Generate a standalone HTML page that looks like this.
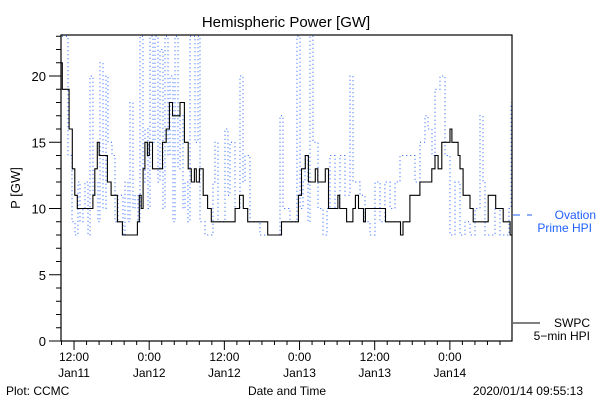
<!DOCTYPE html>
<html><head><meta charset="utf-8">
<style>
html,body{margin:0;padding:0;background:#fff;}
svg{display:block;font-family:"Liberation Sans",sans-serif;}
</style></head>
<body>
<svg id="chart" width="600" height="400" viewBox="0 0 600 400" xmlns="http://www.w3.org/2000/svg">
<rect width="600" height="400" fill="#fff"/>
<text x="286" y="27" text-anchor="middle" font-size="15">Hemispheric Power [GW]</text>
<g id="plot"></g>
<text transform="translate(20,188) rotate(-90)" text-anchor="middle" font-size="13">P [GW]</text>
<text x="287" y="395" text-anchor="middle" font-size="12">Date and Time</text>
<text x="6" y="395" font-size="12">Plot: CCMC</text>
<text x="583" y="395" text-anchor="end" font-size="12">2020/01/14 09:55:13</text>
<g>
<line x1="513" y1="215" x2="520" y2="215" stroke="#1f5fff" stroke-width="1"/>
<line x1="527" y1="215" x2="532" y2="215" stroke="#1f5fff" stroke-width="1"/>
<text x="596" y="219" text-anchor="end" font-size="12" fill="#1f5fff">Ovation</text>
<text x="592" y="232" text-anchor="end" font-size="12" fill="#1f5fff">Prime HPI</text>
</g>
<g>
<line x1="513" y1="323" x2="540" y2="323" stroke="#000" stroke-width="1"/>
<text x="590" y="327" text-anchor="end" font-size="12">SWPC</text>
<text x="590" y="340" text-anchor="end" font-size="12">5−min HPI</text>
</g>
</svg>
<script>
const yTicks = [0,5,10,15,20];
const xTickHours = [2.08,14.08,26.08,38.08,50.08,62.08];
const xTickLine1 = ["12:00","0:00","12:00","0:00","12:00","0:00"];
const xTickLine2 = ["Jan11","Jan12","Jan12","Jan13","Jan13","Jan14"];
const swpcHours = [0,0.2,0.8,1.3,1.8,2.2,2.6,4.8,5.1,5.4,5.8,6.1,6.9,7.4,8,9,9.8,11.7,12.2,12.5,12.8,13.1,13.4,13.8,14.1,14.6,15.7,16.2,16.8,17.3,17.8,18.6,19,19.7,20.3,20.8,21.3,21.6,22.1,22.7,23.4,24,25.3,27.2,27.8,28.5,29.1,29.8,30.7,33,34.4,35.2,37.4,37.9,38.4,39,39.5,40.2,40.6,41,41.9,42.2,42.7,44,44.2,44.5,45.3,45.6,46.6,47,47.5,48.3,48.6,51.4,51.8,53.9,54.2,54.6,55.7,57,57.3,58.6,59.2,59.7,60.2,60.8,62.1,62.4,63.4,63.7,64.2,65.3,65.8,67.5,68.2,69,69.4,70.6,71.7,72];
const swpcValues = [21,19,19,16,13,11,10,10,11,13,15,14,14,12,11,9,8,8,9,11,10,13,15,14,15,13,13,15,16,18,17,17,18,15,13,12,13,12,13,11,10,9,9,9,10,11,10,9,9,8,8,9,9,11,13,14,12,12,13,12,12,13,10,10,11,10,10,9,10,11,10,9,10,10,9,9,8,9,11,11,12,12,13,14,13,15,16,15,14,13,11,10,9,9,11,11,10,9,8,8];
const ovXs = [62,65,68,72,75,78,80,83,85,88,90,93,95,98,100,103,106,108,112,115,118,123,125,128,130,133,135,138,140,143,145,148,150,153,155,158,160,163,165,168,170,173,175,178,180,183,185,188,190,195,198,200,205,210,213,215,218,220,225,228,230,235,240,243,245,250,255,260,265,270,275,280,283,285,290,294,297,300,303,305,308,310,313,318,323,327,330,335,340,345,350,353,355,360,365,370,375,380,385,390,395,400,405,410,415,420,425,428,432,435,440,445,450,455,460,465,470,475,480,483,485,490,495,500,505,509,511];
const ovValues = [23,23,14,9,8,12,9,10,12,8,20,11,12,9,21,10,20,15,14,9,11,8,12,9,18,10,11,9,23,12,16,10,23,15,23,12,22,10,23,14,20,9,23,13,17,10,12,9,23,15,23,9,8,8,12,15,9,9,16,11,15,10,20,12,14,9,9,8,8,8,8,17,10,10,9,9,23,10,12,14,9,23,15,10,8,10,14,10,14,11,20,12,12,11,9,8,12,9,12,10,12,14,14,14,12,15,17,16,14,19,20,14,8,12,8,9,8,10,17,12,8,8,10,8,8,10,18];
const X0=61, X1=512, Y0=341, Y1=35, HOURS=72, YMAX=(341-35)/13.25;
function xs(h){return X0+(h/HOURS)*(X1-X0);}
function xpx(px){return px;}
function ys(v){return Y0-(v/YMAX)*(Y0-Y1);}
const NS="http://www.w3.org/2000/svg";
const plot=document.getElementById('plot');
function mk(tag,attrs){const e=document.createElementNS(NS,tag);for(const k in attrs)e.setAttribute(k,attrs[k]);plot.appendChild(e);return e;}
const defs=mk('defs',{});
const cp=document.createElementNS(NS,'clipPath');cp.setAttribute('id','clip');
const cr=document.createElementNS(NS,'rect');cr.setAttribute('x',X0);cr.setAttribute('y',Y1);cr.setAttribute('width',X1-X0);cr.setAttribute('height',Y0-Y1);
cp.appendChild(cr);defs.appendChild(cp);
let d='';
for(let i=0;i<ovXs.length;i++){const x=xpx(ovXs[i]);const y=Math.max(ys(ovValues[i]),Y1);
 if(i===0)d+='M'+x+','+y;else d+=' H'+x+' V'+y;}
const ov=mk('path',{d:d,fill:'none',stroke:'#1a5cff','stroke-width':1,'stroke-dasharray':'1,3','clip-path':'url(#clip)'});


let d2='';
for(let i=0;i<swpcValues.length;i++){const x=xs(swpcHours[i]).toFixed(1);const y=ys(swpcValues[i]).toFixed(1);
 if(i===0)d2+='M'+x+','+y;else d2+=' H'+x+' V'+y;}
d2+=' H'+xs(swpcHours[swpcHours.length-1]).toFixed(1);
const sw=mk('path',{d:d2,fill:'none',stroke:'#000','stroke-width':1.1,'clip-path':'url(#clip)'});


const fr=mk('rect',{x:X0,y:Y1,width:X1-X0,height:Y0-Y1,fill:'none',stroke:'#000','stroke-width':1.2});


for(let v=0;v<=23;v++){const y=ys(v);const major=yTicks.indexOf(v)>=0;
 const t=mk('line',{x1:major?49:56,x2:X0,y1:y,y2:y,stroke:'#000','stroke-width':1});
 
 }
yTicks.forEach(v=>{const t=mk('text',{x:46,y:ys(v)+5,'text-anchor':'end','font-size':13});t.textContent=v;
 
 });
for(let h=0.08;h<=72;h+=2){const x=xs(h);const major=xTickHours.some(m=>Math.abs(m-h)<0.01);
 const t=mk('line',{x1:x,x2:x,y1:Y0,y2:Y0+(major?9:4),stroke:'#000','stroke-width':1});
 
 }
xTickHours.forEach((h,i)=>{const x=xs(h);
 const a=mk('text',{x:x,y:361,'text-anchor':'middle','font-size':12});a.textContent=xTickLine1[i];
 
 
 const b=mk('text',{x:x,y:377,'text-anchor':'middle','font-size':12});b.textContent=xTickLine2[i];
 
 });
</script>
</body></html>
